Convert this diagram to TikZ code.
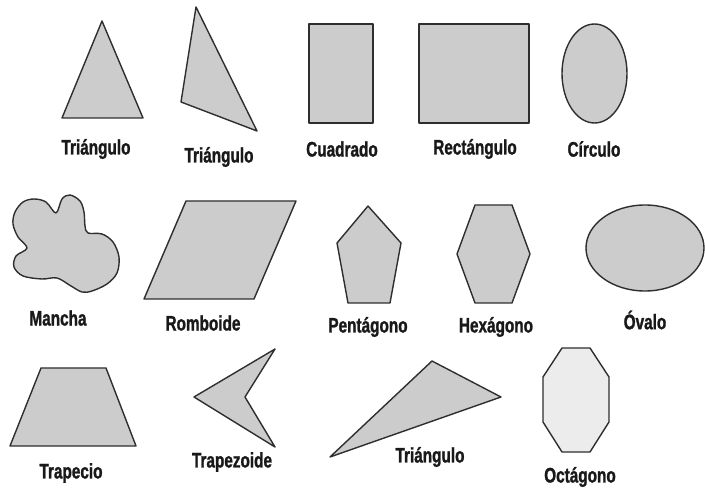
\documentclass[tikz,border=0pt]{standalone}
\usepackage{fontspec}
\setmainfont{Liberation Sans}[FakeStretch=0.73, BoldFeatures={FakeBold=1.2}]
\usepackage{tikz}
\definecolor{figgray}{HTML}{CCCCCC}
\definecolor{figlight}{HTML}{ECECEC}
\definecolor{figline}{HTML}{2E2E2E}
\tikzset{
  shp/.style={draw=figline, fill=figgray, line width=1.4pt, line join=round},
  shplt/.style={shp, fill=figlight},
  lab/.style={font=\fontsize{21}{23}\selectfont\bfseries, text=black!90, inner sep=1pt},
}

\begin{document}
\begin{tikzpicture}[x=1pt, y=-1pt]
  \useasboundingbox (0,0) rectangle (705,489);
  % first row
  \draw[shp] (102,21) -- (143,118) -- (62,118) -- cycle;
  \node[lab] (tri1) at (96,149) {Triángulo};
  \draw[shp] (196,7) -- (257,131) -- (181,102) -- cycle;
  \node[lab] (tri2) at (219,157) {Triángulo};
  \draw[shp] (309,24) rectangle (373,123);
  \node[lab] (cuad) at (342,149) {Cuadrado};
  \draw[shp] (419,24) rectangle (529,123);
  \node[lab] (rect) at (475,149) {Rectángulo};
  \draw[shp] (594.5,73.5) ellipse [x radius=32.5, y radius=49.5];
  \node[lab] (circ) at (594,149) {Círculo};
  % second row
  \draw[shp] plot[smooth cycle, tension=0.55] coordinates {
    (15,212) (23,202) (34,199) (46,202) (56,213) (62,199) (70,195)
    (80,201) (84,212) (85,226) (88,233) (102,234) (113,242) (119,257)
    (117,273) (107,284) (92,291) (82,292) (71,286) (57,278) (42,279)
    (23,276) (14,267) (16,256) (27,248) (18,237) (13,224)};
  \node[lab] (manc) at (58,318) {Mancha};
  \draw[shp] (144,299) -- (186,201) -- (296,201) -- (254,299) -- cycle;
  \node[lab] (romb) at (203,323) {Romboide};
  \draw[shp] (368,206) -- (401,243) -- (390,303) -- (348,303) -- (337,243) -- cycle;
  \node[lab] (pent) at (368,327) {Pentágono};
  \draw[shp] (475,205) -- (512,205) -- (530,254) -- (512,303) -- (475,303) -- (457,254) -- cycle;
  \node[lab] (hexa) at (496,327) {Hexágono};
  \draw[shp] (645,248) ellipse [x radius=59, y radius=43];
  \node[lab] (oval) at (645,320) {Óvalo};
  % third row
  \draw[shp] (41,368) -- (106,368) -- (136,446) -- (10,446) -- cycle;
  \node[lab] (trpc) at (71,473) {Trapecio};
  \draw[shp] (275,349) -- (245,397) -- (275,447) -- (194,397) -- cycle;
  \node[lab] (trpz) at (232,462) {Trapezoide};
  \draw[shp] (330,457) -- (432,361) -- (501,397) -- cycle;
  \node[lab] (tri3) at (430,457) {Triángulo};
  \draw[shplt] (562,348) -- (590,348) -- (609,377) -- (609,422) -- (590,452)
    -- (562,452) -- (543,422) -- (543,377) -- cycle;
  \node[lab] (octa) at (580,477) {Octágono};
\end{tikzpicture}
\end{document}
